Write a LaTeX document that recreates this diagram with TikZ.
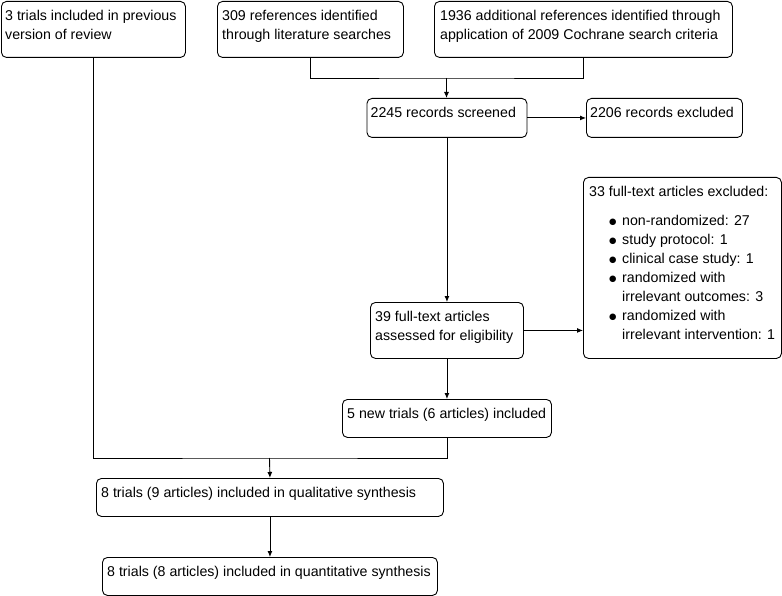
\documentclass[tikz,border=0pt]{standalone}
\usepackage{fontspec}
\setmainfont{Liberation Sans}
\newfontfamily\dejavu{DejaVu Sans}
\usetikzlibrary{arrows.meta}
\newcommand{\fs}{\rule{0pt}{14pt}}
\newcommand{\bul}{\makebox[13pt][l]{\raisebox{1.6pt}{\dejavu\fontsize{8.5}{19}\selectfont ●}}}
\begin{document}
\begin{tikzpicture}[x=1pt,y=-1pt,
  box/.style={draw, rounded corners=5pt, line width=0.9pt, anchor=north west, inner sep=0pt},
  txt/.style={anchor=north west, inner sep=0pt, align=left, font=\fontsize{14.2}{19}\selectfont},
  arr/.style={-{Latex[length=6pt,width=5pt]}, line width=0.9pt},
  conn/.style={line width=0.9pt}]
\useasboundingbox (0,0) rectangle (782,596);
% boxes
\node[box, minimum width=184pt, minimum height=56pt] (b1) at (1,1) {};
\node[box, minimum width=186pt, minimum height=56pt] (b2) at (217,1) {};
\node[box, minimum width=298pt, minimum height=56pt] (b3) at (434,1) {};
\node[box, minimum width=160pt, minimum height=39pt] (b4) at (366.5,98) {};
\node[box, minimum width=156pt, minimum height=39pt] (b5) at (586,98) {};
\node[box, minimum width=198pt, minimum height=181pt] (b6) at (583,177) {};
\node[box, minimum width=153pt, minimum height=56pt] (b7) at (370,302) {};
\node[box, minimum width=209pt, minimum height=38pt] (b8) at (342,399) {};
\node[box, minimum width=347pt, minimum height=38pt] (b9) at (96,478) {};
\node[box, minimum width=335pt, minimum height=38pt] (b10) at (102,557) {};
% texts
\node[txt] (t1) at ([shift={(4pt,-5.5pt)}]b1.north west) {\fs 3 trials included in previous\\version of review};
\node[txt] (t2) at ([shift={(5pt,-5.5pt)}]b2.north west) {\fs 309 references identified\\through literature searches};
\node[txt] (t3) at ([shift={(6pt,-5.5pt)}]b3.north west) {\fs 1936 additional references identified through\\application of 2009 Cochrane search criteria};
\node[txt] (t4) at ([shift={(4pt,-5.5pt)}]b4.north west) {\fs 2245 records screened};
\node[txt] (t5) at ([shift={(4pt,-5.5pt)}]b5.north west) {\fs 2206 records excluded};
\node[txt] (t6) at ([shift={(6pt,-5.5pt)}]b6.north west) {\fs 33 full-text articles excluded:\\[10pt]
\hspace*{20pt}\bul non-randomized: 27\\
\hspace*{20pt}\bul study protocol: 1\\
\hspace*{20pt}\bul clinical case study: 1\\
\hspace*{20pt}\bul randomized with\\
\hspace*{33pt}irrelevant outcomes: 3\\
\hspace*{20pt}\bul randomized with\\
\hspace*{33pt}irrelevant intervention: 1};
\node[txt] (t7) at ([shift={(5pt,-5.5pt)}]b7.north west) {\fs 39 full-text articles\\assessed for eligibility};
\node[txt] (t8) at ([shift={(5pt,-5.5pt)}]b8.north west) {\fs 5 new trials (6 articles) included};
\node[txt] (t9) at ([shift={(5pt,-5.5pt)}]b9.north west) {\fs 8 trials (9 articles) included in qualitative synthesis};
\node[txt] (t10) at ([shift={(5pt,-5.5pt)}]b10.north west) {\fs 8 trials (8 articles) included in quantitative synthesis};
% connectors
\coordinate (j1) at (446.5,78);
\draw[conn] (b2.south) |- (j1) -| (b3.south);
\draw[arr] (j1) -- (j1 |- b4.north);
\draw[arr] (b4.east) -- (b5.west);
\draw[arr] (b4.south) -- (b4.south |- b7.north);
\draw[arr] (b7.east) -- (b6.west |- b7.east);
\draw[arr] (b7.south) -- (b7.south |- b8.north);
\coordinate (j2) at (269.5,458);
\draw[conn] (b1.south) |- (j2) -| (b8.south);
\draw[arr] (j2) -- (b9.north);
\draw[arr] (b9.south) -- (b9.south |- b10.north);
\end{tikzpicture}
\end{document}
